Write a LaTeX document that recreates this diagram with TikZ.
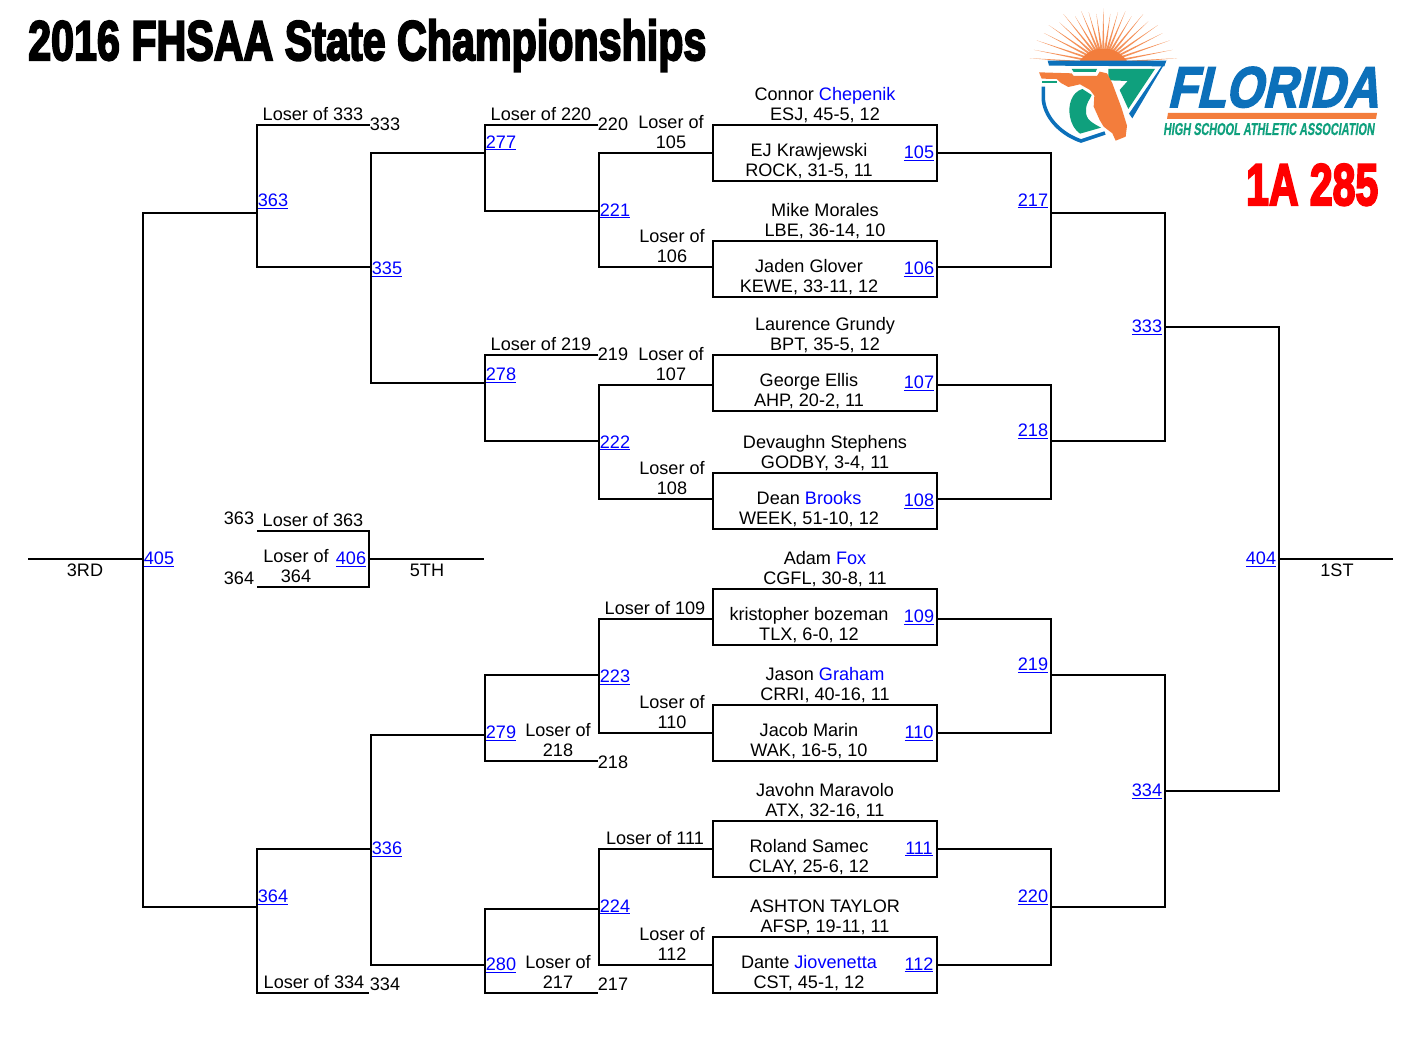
\documentclass[tikz,border=0pt]{standalone}
\usepackage{fontspec}
\usepackage{graphicx}
\setmainfont{Liberation Sans}
\newfontfamily\heavyface[FakeBold=4]{Liberation Sans Bold}
\newfontfamily\logoface[FakeBold=3,FakeSlant=0.28]{Liberation Sans Bold}
\newfontfamily\logosmall[FakeBold=0.6,FakeSlant=0.2]{Liberation Sans Bold}
\definecolor{lnkblue}{RGB}{0,0,255}
\definecolor{logoblue}{RGB}{12,112,186}
\definecolor{logoorange}{RGB}{243,125,60}
\definecolor{logogreen}{RGB}{15,160,125}
\tikzset{
  wire/.style={line width=2pt,line cap=butt,line join=miter,black},
  matchbox/.style={draw=black,line width=2pt,rectangle,minimum width=224pt,minimum height=56pt,inner sep=0pt,outer sep=0pt,anchor=north west},
  lbl/.style={anchor=base,inner sep=0pt,font=\fontsize{18.1}{20}\selectfont},
  lnk/.style={anchor=base,inner sep=0pt,font=\fontsize{18.1}{20}\selectfont,text=lnkblue}
}
\newcommand{\tl}[4]{\node[lbl] (#1) at (#2,#3+6.2) {#4};}
\newcommand{\ul}[3]{\node[lnk] (L#1) at (#2,#3+6.2) {\underline{#1}};}
\newcommand{\bl}[1]{\textcolor{lnkblue}{#1}}
\begin{document}
\begin{tikzpicture}[x=1pt,y=-1pt]
\useasboundingbox (0,0) rectangle (1418,1040);
\fill[white] (0,0) rectangle (1418,1040);

% title
\node[inner sep=0pt,anchor=base west] (title) at (28,60) {\resizebox{678pt}{40.5pt}{\heavyface 2016 FHSAA State Championships}};
\node[inner sep=0pt,anchor=base west,text=red] (classlabel) at (1246,205) {\resizebox{132pt}{41pt}{\heavyface 1A 285}};

% logo
\begin{scope}[shift={(1025,5)},x=0.3333pt,y=-0.3333pt]
  \begin{scope}
    \clip (0,0) rectangle (480,166);
    \foreach \a/\r in {-4/225,4/222,11/212,19/212,27/200,35/200,43/185,51/190,59/165,67/170,74/160,82/150,90/165,98/150,106/160,113/170,121/165,129/190,137/180,145/200,153/200,161/212,169/212,176/222,184/225}{
      \fill[logoorange!85!white] ({235+45*cos(\a+4)},{175-45*sin(\a+4)}) -- ({235+\r*cos(\a)},{175-\r*sin(\a)}) -- ({235+45*cos(\a-4)},{175-45*sin(\a-4)}) -- cycle;
    }
    \fill[logoorange] (235,215) ellipse (85 and 85);
  \end{scope}
  \fill[logoblue] (68,167) -- (424,167) -- (418,184) -- (72,182) -- cycle;
  \fill[logoblue] (412,180) -- (424,167) -- (322,340) -- (312,326) -- cycle;
  \draw[logoblue,line width=3.6pt] (55,245) -- (55,285) .. controls (62,345) and (115,390) .. (168,408) -- (240,384);
  \fill[logogreen] (250,192) -- (390,192) -- (310,312) -- (284,255) -- (308,228) -- (250,226) -- cycle;
  \fill[logogreen] (140,192) -- (216,192) -- (212,201) -- (146,201) -- cycle;
  \fill[logogreen] (50,229) -- (96,229) -- (96,234) -- (50,234) -- cycle;
  \fill[logogreen] (172,252) .. controls (140,262) and (128,300) .. (135,335) .. controls (140,360) and (150,375) .. (165,386) -- (228,368) .. controls (205,355) and (180,345) .. (183,315) .. controls (184,290) and (195,285) .. (200,270) -- cycle;
  \fill[logoorange] (42,202) -- (140,205) -- (146,213) -- (216,213) -- (224,200) -- (246,205) -- (262,235) -- (290,310) -- (306,362) -- (302,395) -- (272,407) -- (262,385) -- (236,365) -- (224,345) -- (206,305) -- (208,272) -- (195,255) -- (165,238) -- (130,246) -- (108,234) -- (95,222) -- (50,221) -- cycle;
\end{scope}
\node[inner sep=0pt,anchor=base west,text=logoblue] (logoname) at (1167,107) {\resizebox{211pt}{40pt}{\logoface FLORIDA}};
\fill[logoorange] (1168,113) -- (1377,113) -- (1376,119) -- (1167,119) -- cycle;
\node[inner sep=0pt,anchor=base west,text=logogreen] (logosub) at (1163,135) {\resizebox{211pt}{12pt}{\logosmall HIGH SCHOOL ATHLETIC ASSOCIATION}};

% match boxes
\foreach \n/\y in {105/125,106/241,107/355,108/473,109/589,110/705,111/821,112/937}{
  \node[matchbox] (m\n) at (713,\y) {};
}
% junction points
\foreach \n/\x/\y in {
 a105/713/153,a106/713/267,a107/713/385,a108/713/499,a109/713/619,a110/713/733,a111/713/849,a112/713/965,
 b105/937/153,b106/937/267,b107/937/385,b108/937/499,b109/937/619,b110/937/733,b111/937/849,b112/937/965,
 r217/1051/213,r218/1051/441,r219/1051/675,r220/1051/907,
 r333/1165/327,r334/1165/791,w404/1279/559,e404/1393/559,
 l221/599/211,l222/599/441,l223/599/675,l224/599/909,
 t277/598/125,t278/598/355,t279/598/761,t280/598/993,
 j277/485/153,j278/485/383,j279/485/735,j280/485/965,
 j335/371/267,j336/371/849,t363/370/125,t364/369/993,
 j363/257/213,j364/257/907,w405/143/559,e405/28/559,
 t5a/257/531,t5b/257/587,c5/369/559,e5/484/559}{
  \coordinate (\n) at (\x,\y);
}
% right side of the bracket
\draw[wire] (b105) -| (1051,267) -- (b106);
\draw[wire] (b107) -| (1051,499) -- (b108);
\draw[wire] (b109) -| (1051,733) -- (b110);
\draw[wire] (b111) -| (1051,965) -- (b112);
\draw[wire] (r217) -| (r333 |- r218) -- (r218);
\draw[wire] (r219) -| (r334 |- r220) -- (r220);
\draw[wire] (r333) -| (w404 |- r334) -- (r334);
\draw[wire] (w404) -- (e404);
% left side of the bracket
\draw[wire] (a105) -| (599,267) -- (a106);
\draw[wire] (a107) -| (599,499) -- (a108);
\draw[wire] (a109) -| (599,733) -- (a110);
\draw[wire] (a111) -| (599,965) -- (a112);
\draw[wire] (t277) -| (j277 |- l221) -- (l221);
\draw[wire] (t278) -| (j278 |- l222) -- (l222);
\draw[wire] (l223) -| (j279 |- t279) -- (t279);
\draw[wire] (l224) -| (j280 |- t280) -- (t280);
\draw[wire] (j277) -| (j335 |- j278) -- (j278);
\draw[wire] (j279) -| (j336 |- j280) -- (j280);
\draw[wire] (t363) -| (j363 |- j335) -- (j335);
\draw[wire] (j336) -| (j364 |- t364) -- (t364);
\draw[wire] (j363) -| (w405 |- j364) -- (j364);
\draw[wire] (w405) -- (e405);
% fifth place
\draw[wire] (t5a) -| (c5 |- t5b) -- (t5b);
\draw[wire] (c5) -- (e5);

% link labels
\ul{105}{919}{152}\ul{106}{919}{268}\ul{107}{919}{382}\ul{108}{919}{500}
\ul{109}{919}{616}\ul{110}{919}{732}\ul{111}{919}{848}\ul{112}{919}{964}
\ul{217}{1033}{200}\ul{218}{1033}{430}\ul{219}{1033}{664}\ul{220}{1033}{896}
\ul{333}{1147}{326}\ul{334}{1147}{790}\ul{404}{1261}{558}
\ul{221}{615}{210}\ul{222}{615}{442}\ul{223}{615}{676}\ul{224}{615}{906}
\ul{277}{501}{142}\ul{278}{501}{374}\ul{279}{501}{732}\ul{280}{501}{964}
\ul{335}{387}{268}\ul{336}{387}{848}\ul{363}{273}{200}\ul{364}{273}{896}
\ul{405}{159}{558}\ul{406}{351}{558}

% player names
\tl{p1}{825}{94}{Connor \bl{Chepenik}}\tl{p1b}{825}{114}{ESJ, 45-5, 12}
\tl{p2}{809}{150}{EJ Krawjewski}\tl{p2b}{809}{170}{ROCK, 31-5, 11}
\tl{p3}{825}{210}{Mike Morales}\tl{p3b}{825}{230}{LBE, 36-14, 10}
\tl{p4}{809}{266}{Jaden Glover}\tl{p4b}{809}{286}{KEWE, 33-11, 12}
\tl{p5}{825}{324}{Laurence Grundy}\tl{p5b}{825}{344}{BPT, 35-5, 12}
\tl{p6}{809}{380}{George Ellis}\tl{p6b}{809}{400}{AHP, 20-2, 11}
\tl{p7}{825}{442}{Devaughn Stephens}\tl{p7b}{825}{462}{GODBY, 3-4, 11}
\tl{p8}{809}{498}{Dean \bl{Brooks}}\tl{p8b}{809}{518}{WEEK, 51-10, 12}
\tl{p9}{825}{558}{Adam \bl{Fox}}\tl{p9b}{825}{578}{CGFL, 30-8, 11}
\tl{p10}{809}{614}{kristopher bozeman}\tl{p10b}{809}{634}{TLX, 6-0, 12}
\tl{p11}{825}{674}{Jason \bl{Graham}}\tl{p11b}{825}{694}{CRRI, 40-16, 11}
\tl{p12}{809}{730}{Jacob Marin}\tl{p12b}{809}{750}{WAK, 16-5, 10}
\tl{p13}{825}{790}{Javohn Maravolo}\tl{p13b}{825}{810}{ATX, 32-16, 11}
\tl{p14}{809}{846}{Roland Samec}\tl{p14b}{809}{866}{CLAY, 25-6, 12}
\tl{p15}{825}{906}{ASHTON TAYLOR}\tl{p15b}{825}{926}{AFSP, 19-11, 11}
\tl{p16}{809}{962}{Dante \bl{Jiovenetta}}\tl{p16b}{809}{982}{CST, 45-1, 12}

% loser labels
\tl{lo105}{671}{122}{Loser of}\tl{lo105b}{671}{142}{105}
\tl{lo106}{672}{236}{Loser of}\tl{lo106b}{672}{256}{106}
\tl{lo107}{671}{354}{Loser of}\tl{lo107b}{671}{374}{107}
\tl{lo108}{672}{468}{Loser of}\tl{lo108b}{672}{488}{108}
\tl{lo109}{655}{608}{Loser of 109}
\tl{lo110}{672}{702}{Loser of}\tl{lo110b}{672}{722}{110}
\tl{lo111}{655}{838}{Loser of 111}
\tl{lo112}{672}{934}{Loser of}\tl{lo112b}{672}{954}{112}
\tl{lo220}{541}{114}{Loser of 220}\tl{n220}{613}{124}{220}
\tl{lo219}{541}{344}{Loser of 219}\tl{n219}{613}{354}{219}
\tl{lo218}{558}{730}{Loser of}\tl{lo218b}{558}{750}{218}\tl{n218}{613}{762}{218}
\tl{lo217}{558}{962}{Loser of}\tl{lo217b}{558}{982}{217}\tl{n217}{613}{984}{217}
\tl{lo333}{313}{114}{Loser of 333}\tl{n333}{385}{124}{333}
\tl{lo334}{314}{982}{Loser of 334}\tl{n334}{385}{984}{334}
\tl{lo363}{313}{520}{Loser of 363}\tl{n363}{239}{518}{363}
\tl{lo364}{296}{556}{Loser of}\tl{lo364b}{296}{576}{364}\tl{n364}{239}{578}{364}
\tl{place3}{85}{570}{3RD}\tl{place5}{427}{570}{5TH}\tl{place1}{1337}{570}{1ST}
\end{tikzpicture}
\end{document}
